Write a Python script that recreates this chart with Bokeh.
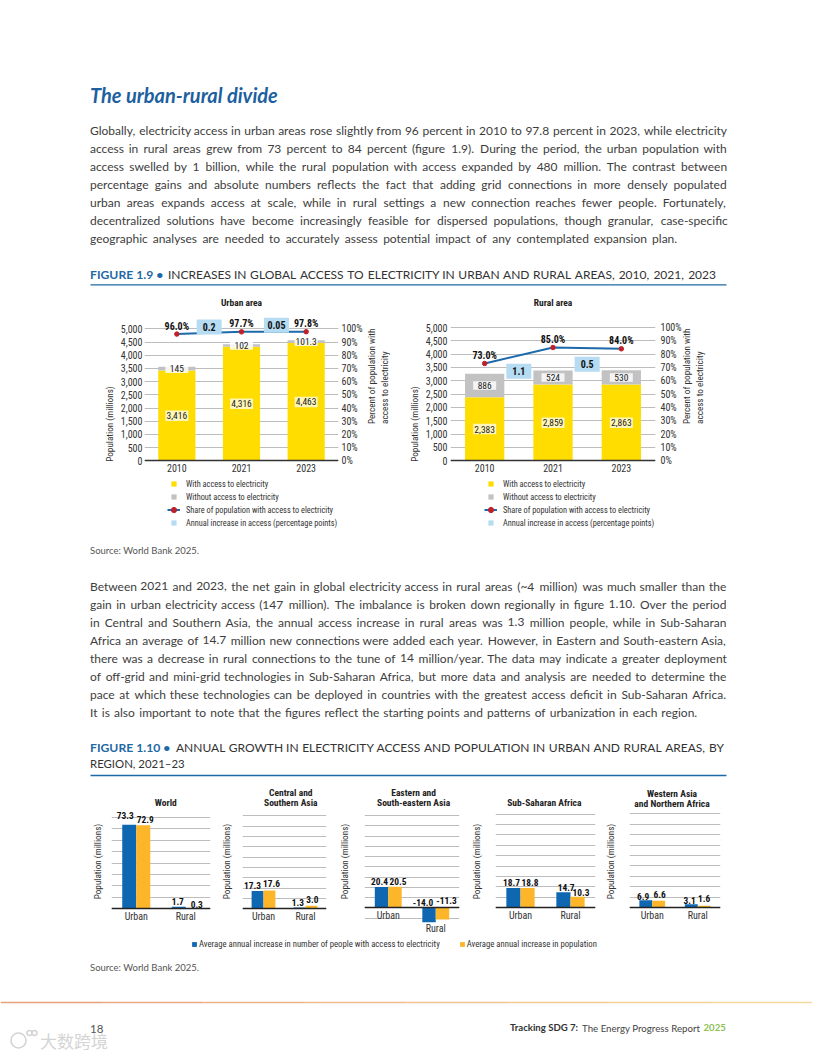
import math
from bokeh.plotting import figure
from bokeh.layouts import column, row
from bokeh.models import (Range1d, ColumnDataSource, LinearAxis, FixedTicker, NumeralTickFormatter,
                          PrintfTickFormatter, Legend, LegendItem)
from bokeh.core.properties import value
from bokeh.embed import file_html
from bokeh.resources import INLINE

# ---------- data ----------
YEARS = ["2010", "2021", "2023"]
URBAN_WITH = [3416, 4316, 4463]
URBAN_WITHOUT = [145, 102, 101.3]
URBAN_WITHOUT_TXT = ["145", "102", "101.3"]
URBAN_SHARE = [96.0, 97.7, 97.8]
URBAN_INCREASE = ["0.2", "0.05"]
RURAL_WITH = [2383, 2859, 2863]
RURAL_WITHOUT = [886, 524, 530]
RURAL_WITHOUT_TXT = ["886", "524", "530"]
RURAL_SHARE = [73.0, 85.0, 84.0]
RURAL_INCREASE = ["1.1", "0.5"]
LEFT_TICKS = list(range(0, 5001, 500))
RIGHT_TICKS = list(range(0, 101, 10))

AREAS = ["Urban", "Rural"]
WORLD = ([73.3, 1.7], [72.9, 0.3])
CENTRAL = ([17.3, 1.3], [17.6, 3.0])
EASTERN = ([20.4, -14.0], [20.5, -11.3])
SUBSAHARAN = ([18.7, 14.7], [18.8, 10.3])
WESTERN = ([6.9, 3.1], [6.6, 1.6])

PARA1 = [
 "Globally, electricity access in urban areas rose slightly from 96 percent in 2010 to 97.8 percent in 2023, while electricity",
 "access in rural areas grew from 73 percent to 84 percent (figure 1.9). During the period, the urban population with",
 "access swelled by 1 billion, while the rural population with access expanded by 480 million. The contrast between",
 "percentage gains and absolute numbers reflects the fact that adding grid connections in more densely populated",
 "urban areas expands access at scale, while in rural settings a new connection reaches fewer people. Fortunately,",
 "decentralized solutions have become increasingly feasible for dispersed populations, though granular, case-specific",
 "geographic analyses are needed to accurately assess potential impact of any contemplated expansion plan.",
]
PARA2 = [
 "Between 2021 and 2023, the net gain in global electricity access in rural areas (~4 million) was much smaller than the",
 "gain in urban electricity access (147 million). The imbalance is broken down regionally in figure 1.10. Over the period",
 "in Central and Southern Asia, the annual access increase in rural areas was 1.3 million people, while in Sub-Saharan",
 "Africa an average of 14.7 million new connections were added each year. However, in Eastern and South-eastern Asia,",
 "there was a decrease in rural connections to the tune of 14 million/year. The data may indicate a greater deployment",
 "of off-grid and mini-grid technologies in Sub-Saharan Africa, but more data and analysis are needed to determine the",
 "pace at which these technologies can be deployed in countries with the greatest access deficit in Sub-Saharan Africa.",
 "It is also important to note that the figures reflect the starting points and patterns of urbanization in each region.",
]

# ---------- style ----------
BODY = "Lato"
NARROW = "Roboto Condensed"
YELLOW, GREY, LINE, DOT, BOX = "#ffdd00", "#c2c2c2", "#1c69ab", "#c0202a", "#b5dcf2"
BLUE, ORANGE = "#0f67b1", "#fdb52a"
GRIDC = "#bdbdbd"
INK = "#3d3d3d"
TITLEBLUE = "#1d5f9f"
NAN = float("nan")

CW = dict(a=.506,b=.55,c=.457,d=.55,e=.517,f=.328,g=.50,h=.545,i=.24,j=.24,k=.50,l=.24,m=.81,n=.545,o=.566,p=.546,q=.55,
          r=.37,s=.425,t=.35,u=.545,v=.50,w=.75,x=.49,y=.50,z=.44,
          A=.68,B=.63,C=.65,D=.74,E=.56,F=.54,G=.71,H=.74,I=.27,J=.40,K=.65,L=.50,M=.91,N=.74,O=.79,P=.58,Q=.79,R=.62,
          S=.54,T=.58,U=.72,V=.68,W=1.0,X=.66,Y=.62,Z=.61)
SPACE = .193
def est(word, size=1):
    w = 0
    for c in word:
        if c in CW: w += CW[c]
        elif c.isdigit(): w += .58
        elif c in ",.:;": w += .24
        elif c in "()-/": w += .33
        elif c == "~": w += .58
        else: w += .4
    return w * size

def page_fig(top, bottom):
    p = figure(width=812, height=bottom - top, x_range=Range1d(0, 812), y_range=Range1d(bottom, top),
               output_backend="svg", toolbar_location=None, min_border=0, outline_line_color=None,
               background_fill_color=None, border_fill_color=None, x_axis_location=None, y_axis_location=None)
    p.grid.visible = False
    return p

def put(p, x, y, s, size, color=INK, bold=False, italic=False, align="left", font=BODY):
    style = "bold italic" if bold and italic else "bold" if bold else "italic" if italic else "normal"
    p.text([x - .5], [y - 1], text=[s], text_font=value(font), text_font_size=f"{size}px", text_color=color,
           text_align=align, text_baseline="middle", text_font_style=style)

def words_line(p, line, x0, x1, y, cap, color=INK):
    ws = line.split(" ")
    fit = (x1 - x0) / (sum(est(w) for w in ws) + SPACE * (len(ws) - 1))
    size = min(cap, fit)
    widths = [est(w, size) for w in ws]
    gap = (x1 - x0 - sum(widths)) / (len(ws) - 1)
    xs, x = [], x0 - .5
    for w in widths:
        xs.append(x)
        x += w + gap
    p.text(xs, [y - 1] * len(ws), text=ws, text_font=value(BODY), text_font_size=f"{size:.2f}px", text_color=color,
           text_align="left", text_baseline="middle")

def paragraph(p, lines, y0, step, last_end, cap=12.0):
    for i, l in enumerate(lines):
        words_line(p, l, 90, last_end if i == len(lines) - 1 else 726, y0 + i * step, cap)

# ---------- top text ----------
A = page_fig(0, 288)
put(A, 90, 95, "The urban-rural divide", 20, TITLEBLUE, bold=True, italic=True)
paragraph(A, PARA1, 131, 18.0, 677)
put(A, 90, 275, "FIGURE 1.9 \u2022", 12.2, "#1f6aa5", bold=True)
words_line(A, "INCREASES IN GLOBAL ACCESS TO ELECTRICITY IN URBAN AND RURAL AREAS, 2010, 2021, 2023", 168, 716, 275, 12, "#333333")
A.segment([90], [284.3], [726], [284.3], line_color="#1f6aa5", line_width=1.3)

# ---------- figure 1.9 ----------
def access_chart(fig_left, fig_right, fleft, fright, zero, top, title, withv, without, without_txt, share, incr,
                 box_pos, legend_x, yl_label_st, yl_standoff, yr_label_st, yr_standoff):
    ftop, fbot, figtop, figbot = 312, 535, 288, 540
    ppu = (zero - top) / 5000
    start, end = (zero - fbot) / ppu, (zero - ftop) / ppu
    p = figure(width=fig_right - fig_left, height=figbot - figtop, output_backend="svg", toolbar_location=None,
               x_range=Range1d(0, 3), y_range=Range1d(start, end), min_border_left=int(fleft - fig_left),
               min_border_right=int(fig_right - fright), min_border_top=ftop - figtop, min_border_bottom=figbot - fbot,
               outline_line_color=None, background_fill_color=None, border_fill_color=None)
    p.extra_y_ranges = {"pct": Range1d(start / 50, end / 50)}
    xs = [i + .5 for i in range(len(YEARS))]
    p.title.text = title
    p.title.align = "center"
    p.title.text_font = NARROW
    p.title.text_font_size = "9.5px"
    p.title.text_font_style = "bold"
    p.title.text_color = "#222222"
    p.title.standoff = 10
    p.xgrid.visible = False
    p.ygrid.grid_line_color = GRIDC
    p.ygrid.grid_line_width = 1.2
    y = p.yaxis[0]
    y.ticker = FixedTicker(ticks=LEFT_TICKS)
    y.bounds = (0, 5000)
    y.formatter = NumeralTickFormatter(format="0,0")
    y.axis_line_color = None
    y.major_tick_line_color = None
    y.minor_tick_line_color = None
    y.major_tick_out = 0
    y.major_tick_in = 0
    y.minor_tick_out = 0
    y.major_label_standoff = yl_label_st
    y.major_label_text_font = NARROW
    y.major_label_text_font_size = "10px"
    y.major_label_text_color = "#333333"
    y.axis_label = "Population (millions)"
    y.axis_label_text_font = NARROW
    y.axis_label_text_font_size = "9.2px"
    y.axis_label_text_font_style = "normal"
    y.axis_label_text_color = "#333333"
    y.axis_label_standoff = yl_standoff
    r = LinearAxis(y_range_name="pct", ticker=FixedTicker(ticks=RIGHT_TICKS), bounds=(0, 100),
                   formatter=PrintfTickFormatter(format="%d%%"), axis_line_color=None, major_tick_line_color=None,
                   minor_tick_line_color=None, major_tick_out=0, major_tick_in=0, minor_tick_out=0,
                   major_label_standoff=yr_label_st, major_label_text_font=NARROW,
                   major_label_text_font_size="10px", major_label_text_color="#333333",
                   axis_label="Percent of population with\naccess to electricity", axis_label_text_font=NARROW,
                   axis_label_text_font_size="9.2px", axis_label_text_font_style="normal",
                   axis_label_text_color="#333333", axis_label_standoff=yr_standoff,
                   axis_label_orientation=math.pi / 2)
    p.add_layout(r, "right")
    x = p.xaxis[0]
    x.fixed_location = 0
    x.ticker = FixedTicker(ticks=xs)
    x.major_label_overrides = dict(zip(xs, YEARS))
    x.axis_line_color = "#333333"
    x.axis_line_width = 1.6
    x.major_tick_line_color = None
    x.minor_tick_line_color = None
    x.major_tick_out = 0
    x.major_tick_in = 0
    x.minor_tick_out = 0
    x.major_label_text_font = NARROW
    x.major_label_text_font_size = "10px"
    x.major_label_text_color = "#333333"
    x.major_label_standoff = 3
    tops = [a + b for a, b in zip(withv, without)]
    src = ColumnDataSource(dict(x=xs, w=withv, t=tops, wm=[a / 2 for a in withv],
                                om=[a + b / 2 for a, b in zip(withv, without)],
                                wt=[f"{a:,}" for a in withv], ot=without_txt))
    p.vbar(x="x", bottom=0, top="w", width=.575, source=src, fill_color=YELLOW, line_color=None)
    p.vbar(x="x", bottom="w", top="t", width=.575, source=src, fill_color=GREY, line_color=None)
    p.rect(x="x", y="wm", width=23, height=10.5, width_units="screen", height_units="screen", source=src,
           fill_color="white", fill_alpha=.72, line_color=None)
    p.rect(x="x", y="om", width=23, height=8.5, width_units="screen", height_units="screen", source=src,
           fill_color="white", fill_alpha=.82, line_color=None)
    for col, ymid in (("wt", "wm"), ("ot", "om")):
        p.text(x="x", y=ymid, text=col, source=src, text_font=value(NARROW), text_font_size="9.5px", text_color="#222222",
               text_align="center", text_baseline="middle")
    ls = ColumnDataSource(dict(x=xs, y=share, t=[f"{v:.1f}%" for v in share]))
    lr = p.line("x", "y", source=ls, y_range_name="pct", line_color=LINE, line_width=2)
    mr = p.scatter("x", "y", source=ls, y_range_name="pct", size=4.5, fill_color=DOT, line_color=DOT)
    p.text("x", "y", text="t", source=ls, y_range_name="pct", y_offset=-8, text_font=value(NARROW), text_font_size="10px",
           text_font_style="bold", text_color="#111111", text_align="center", text_baseline="middle")
    bs = ColumnDataSource(dict(x=[(a + b) / 2 + d for a, b, d in zip(xs, xs[1:], [bp[0] for bp in box_pos])],
                               y=[bp[1] for bp in box_pos], t=incr))
    p.rect("x", "y", source=bs, y_range_name="pct", width=25, height=15, width_units="screen", height_units="screen",
           fill_color=BOX, line_color=None)
    p.text("x", "y", text="t", source=bs, y_range_name="pct", text_font=value(NARROW), text_font_size="10px",
           text_font_style="bold", text_color="#111111", text_align="center", text_baseline="middle")
    s1 = p.scatter([NAN], [NAN], marker="square", size=6.5, fill_color=YELLOW, line_color=None)
    s2 = p.scatter([NAN], [NAN], marker="square", size=6.5, fill_color=GREY, line_color=None)
    s3 = p.scatter([NAN], [NAN], marker="square", size=6.5, fill_color=BOX, line_color=None)
    leg = Legend(items=[LegendItem(label="With access to electricity", renderers=[s1]),
                        LegendItem(label="Without access to electricity", renderers=[s2]),
                        LegendItem(label="Share of population with access to electricity", renderers=[lr, mr]),
                        LegendItem(label="Annual increase in access (percentage points)", renderers=[s3])],
                 location=(legend_x, 6), orientation="vertical", margin=0, padding=0, spacing=0, glyph_width=13,
                 glyph_height=13, label_height=13, label_standoff=6, border_line_color=None,
                 background_fill_color=None, background_fill_alpha=0, label_text_font=NARROW,
                 label_text_font_size="8.3px", label_text_color="#333333", click_policy="none")
    p.add_layout(leg, "center")
    return p

B1 = access_chart(0, 404, 144, 338, 460.3, 328.3, "Urban area", URBAN_WITH, URBAN_WITHOUT, URBAN_WITHOUT_TXT,
                  URBAN_SHARE, URBAN_INCREASE, [(0, 101.3), (.04, 102.7)], 23, 2, 3, 3, 12)
B2 = access_chart(404, 812, 450, 655, 460.3, 327.0, "Rural area", RURAL_WITH, RURAL_WITHOUT, RURAL_WITHOUT_TXT,
                  RURAL_SHARE, RURAL_INCREASE, [(0, 67.2), (0, 72.5)], 34, 3, 3, 5, 8)

# ---------- middle text ----------
C = page_fig(540, 783)
put(C, 90, 551, "Source: World Bank 2025.", 9.5, "#555555")
paragraph(C, PARA2, 586.5, 18.1, 697)
put(C, 90, 748, "FIGURE 1.10 \u2022", 12.2, "#1f6aa5", bold=True)
words_line(C, "ANNUAL GROWTH IN ELECTRICITY ACCESS AND POPULATION IN URBAN AND RURAL AREAS, BY", 176, 724, 748, 12, "#333333")
put(C, 90, 764, "REGION, 2021\u201323", 11.4, "#333333")
C.segment([90], [775], [726], [775], line_color="#1f6aa5", line_width=1.3)

# ---------- figure 1.10 ----------
def small_chart(fig_left, fig_right, fleft, fright, zero, top, top_val, title_lines, title_x, series, offsets, y_stand,
                low=0, rural_y=None):
    ftop, fbot, figtop, figbot = 787, 935, 783, 935
    ppu = (zero - top) / top_val
    start, end = (zero - fbot) / ppu, (zero - ftop) / ppu
    sx = lambda px: (px - fleft) / (fright - fleft) * 2
    sy = lambda py: (zero - py) / ppu
    p = figure(width=fig_right - fig_left, height=figbot - figtop, output_backend="svg", toolbar_location=None,
               x_range=Range1d(0, 2), y_range=Range1d(start, end), min_border_left=int(round(fleft - fig_left)),
               min_border_right=int(round(fig_right - fright)), min_border_top=ftop - figtop, min_border_bottom=0,
               outline_line_color=None, background_fill_color=None, border_fill_color=None)
    ticks = list(range(low, top_val + 1, 10))
    p.xgrid.visible = False
    p.ygrid.grid_line_color = GRIDC
    p.ygrid.grid_line_width = 1.1
    y = p.yaxis[0]
    y.ticker = FixedTicker(ticks=ticks)
    y.bounds = (low, top_val)
    y.axis_line_color = None
    y.major_tick_line_color = None
    y.minor_tick_line_color = None
    y.major_tick_out = 0
    y.major_tick_in = 0
    y.minor_tick_out = 0
    y.major_label_text_font_size = "0px"
    y.major_label_standoff = 0
    y.axis_label = "Population (millions)"
    y.axis_label_text_font = NARROW
    y.axis_label_text_font_size = "9.2px"
    y.axis_label_text_font_style = "normal"
    y.axis_label_text_color = "#333333"
    y.axis_label_standoff = y_stand
    cats = [.5, 1.5]
    x = p.xaxis[0]
    x.fixed_location = 0
    x.ticker = FixedTicker(ticks=cats if rural_y is None else cats[:1])
    x.major_label_overrides = dict(zip(cats, AREAS))
    x.axis_line_color = "#222222"
    x.axis_line_width = 1.5
    x.major_tick_line_color = None
    x.minor_tick_line_color = None
    x.major_tick_out = 0
    x.major_tick_in = 0
    x.minor_tick_out = 0
    x.major_label_text_font = NARROW
    x.major_label_text_font_size = "10px"
    x.major_label_text_color = "#333333"
    x.major_label_standoff = 2
    w = .283
    a, b = series
    src = ColumnDataSource(dict(xa=[c - w / 2 for c in cats], xb=[c + w / 2 for c in cats], a=a, b=b))
    p.vbar(x="xa", bottom=0, top="a", width=w, source=src, fill_color=BLUE, line_color=None)
    p.vbar(x="xb", bottom=0, top="b", width=w, source=src, fill_color=ORANGE, line_color=None)
    lx = [c - w / 2 for c in cats] + [c + w / 2 for c in cats]
    lv = list(a) + list(b)
    ls = ColumnDataSource(dict(x=lx, y=[max(v, 0) for v in lv], t=[f"{v:.1f}" for v in lv],
                               dx=[o[0] for o in offsets], dy=[o[1] for o in offsets]))
    p.text("x", "y", text="t", x_offset="dx", y_offset="dy", source=ls, text_font=value(NARROW), text_font_size="9.4px",
           text_font_style="bold", text_color="#111111", text_align="center", text_baseline="middle")
    for i, (t, py) in enumerate(title_lines):
        p.text([sx(title_x)], [sy(py)], text=[t], text_font=value(NARROW), text_font_size="9.5px", text_font_style="bold",
               text_color="#222222", text_align="center", text_baseline="middle")
    if rural_y is not None:
        ax = LinearAxis(fixed_location=sy(rural_y), ticker=FixedTicker(ticks=cats[1:]), axis_line_color=None,
                        major_tick_line_color=None, minor_tick_line_color=None, major_tick_out=0, major_tick_in=0,
                        minor_tick_out=0, major_label_text_font=NARROW,
                        major_label_text_font_size="10px", major_label_text_color="#333333", major_label_standoff=2,
                        major_label_overrides={cats[1]: AREAS[1]})
        p.add_layout(ax, "below")
    return p

D1 = small_chart(0, 217, 111, 210, 908.3, 816.7, 80, [("World", 801.5)], 165.3, WORLD,
                 [(-4, -9), (-1, -5), (2, -6), (4, -4)], 9)
D2 = small_chart(217, 335, 234, 325.7, 908.3, 815.3, 90, [("Central and", 792), ("Southern Asia", 802)], 286.7, CENTRAL,
                 [(-5, -5), (-1.6, -5), (2, -7), (1, -6)], 11)
D3 = small_chart(335, 467, 352.3, 458.7, 907.3, 815, 90, [("Eastern and", 792), ("South-eastern Asia", 802)], 407.3, EASTERN,
                 [(-2, -5.3), (-6, -5.6), (3, -5), (4, -7.3)], 15, low=-10, rural_y=920)
D4 = small_chart(467, 601, 485.3, 595.3, 907, 813.7, 90, [("Sub-Saharan Africa", 802)], 539, SUBSAHARAN,
                 [(-2, -5.7), (2.7, -5), (2.4, -5.7), (3.5, -4.7)], 14)
D5 = small_chart(601, 812, 618.7, 720, 907, 813.3, 90, [("Western Asia", 792.5), ("and Northern Africa", 803)], 666, WESTERN,
                 [(-2.7, -4.3), (-1.7, -4), (1, -5.7), (0, -7)], 14)

# ---------- footer ----------
E = page_fig(935, 1052)
e1 = E.vbar([NAN], top=[NAN], bottom=[NAN], width=1, fill_color=BLUE, line_color=None)
e2 = E.vbar([NAN], top=[NAN], bottom=[NAN], width=1, fill_color=ORANGE, line_color=None)
E.add_layout(Legend(items=[LegendItem(label="Average annual increase in number of people with access to electricity", renderers=[e1]),
                           LegendItem(label="Average annual increase in population", renderers=[e2])],
                    location=(191, 103), orientation="horizontal", margin=0, padding=0, spacing=19, glyph_width=6,
                    glyph_height=6, label_height=10, label_standoff=2, border_line_color=None,
                    background_fill_color=None, background_fill_alpha=0, label_text_font=NARROW,
                    label_text_font_size="8.7px", label_text_color="#333333"), "center")
put(E, 90, 968, "Source: World Bank 2025.", 9.5, "#555555")
RULE = ["#e79f7d", "#e9a983", "#ebb288", "#eebb8c", "#f0c38f", "#f2cb93", "#f4d296", "#f5d89a"]
n = len(RULE)
E.segment([i * 812 / n for i in range(n)], [1002] * n, [(i + 1) * 812 / n for i in range(n)], [1002] * n,
          line_color=RULE, line_width=1.4)
put(E, 90, 1029, "18", 11.5, "#555555")
put(E, 40, 1041, "\u5927\u6570\u8de8\u5883", 17, "#d4d4d4", font="Noto Sans CJK SC")
E.scatter([18, 29, 34], [1040, 1032.5, 1032.5], size=[15, 5, 5], fill_color=None, line_color="#d4d4d4", line_width=1.6)
put(E, 510, 1028, "Tracking SDG 7:", 9.6, "#333333", bold=True)
put(E, 582, 1028, "The Energy Progress Report", 9.7, "#444444")
put(E, 703.5, 1028, "2025", 9.6, "#8cc152", bold=True)

layout = column(A, row(B1, B2), C, row(D1, D2, D3, D4, D5), E)
open("out.html", "w").write(file_html(layout, INLINE))
